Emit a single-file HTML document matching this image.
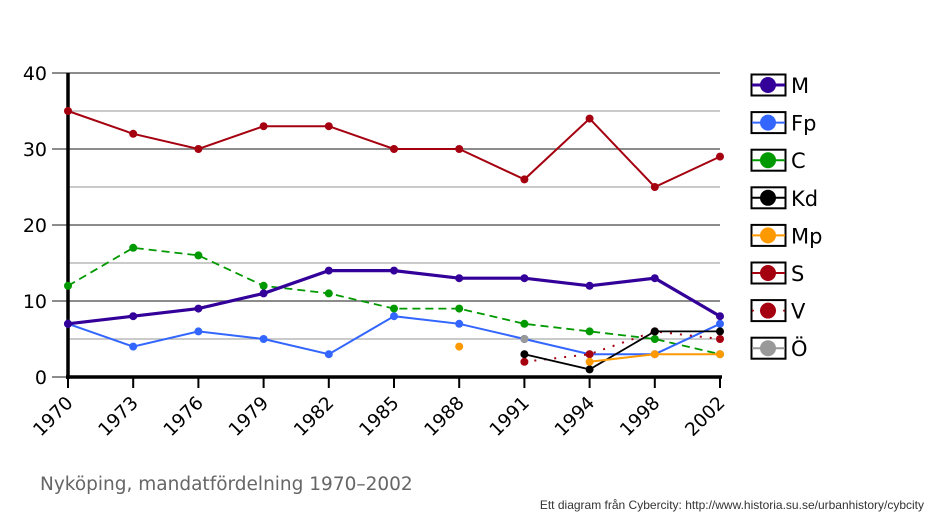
<!DOCTYPE html>
<html><head><meta charset="utf-8"><style>
html,body{margin:0;padding:0;background:#fff;width:934px;height:521px;overflow:hidden}
svg text{font-family:"DejaVu Sans","Liberation Sans",sans-serif}
</style></head><body>
<svg id="s" width="934" height="521" xmlns="http://www.w3.org/2000/svg">
<text x="40" y="490" font-size="18.5" fill="#666">Nyköping, mandatfördelning 1970–2002</text>
<text x="924" y="509" font-size="12" fill="#333" text-anchor="end" style="font-family:'Liberation Sans',sans-serif">Ett diagram från Cybercity: http://www.historia.su.se/urbanhistory/cybcity</text>
</svg>
<script>
var s=document.getElementById('s'),NS='http://www.w3.org/2000/svg';
function el(t,a,txt){var e=document.createElementNS(NS,t);for(var k in a)e.setAttribute(k,a[k]);if(txt!=null)e.textContent=txt;s.appendChild(e);return e;}
var years=[1970,1973,1976,1979,1982,1985,1988,1991,1994,1998,2002];
function X(i){return 68+i*65.2;}function Y(v){return 377-7.6*v;}
for(var v=5;v<=40;v+=5){var maj=v%10==0;el('line',{x1:maj?52:68,x2:720,y1:Y(v),y2:Y(v),stroke:maj?'#666':'#aaa','stroke-width':maj?1.5:1.2});
if(maj)el('text',{x:47,y:Y(v)+7,'font-size':19,'text-anchor':'end'},v);}
el('line',{x1:52,x2:68,y1:377,y2:377,stroke:'#666','stroke-width':1.5});
el('text',{x:47,y:384,'font-size':19,'text-anchor':'end'},0);
el('line',{x1:68,x2:68,y1:73,y2:379,stroke:'#000','stroke-width':3.5});
el('line',{x1:66,x2:722,y1:377,y2:377,stroke:'#000','stroke-width':3.5});
years.forEach(function(y,i){var x=X(i);el('line',{x1:x,x2:x,y1:377,y2:388,stroke:'#000','stroke-width':2});
el('text',{x:x+6,y:404,'font-size':18.5,'text-anchor':'end',transform:'rotate(-45 '+(x+6)+' 404)'},y);});
var ser=[
['S','#a50010',2,'',[35,32,30,33,33,30,30,26,34,25,29]],
['C','#009900',1.8,'8,5',[12,17,16,12,11,9,9,7,6,5,3]],
['Fp','#3366ff',2,'',[7,4,6,5,3,8,7,5,3,3,7]],
['M','#330099',3.2,'',[7,8,9,11,14,14,13,13,12,13,8]],
['V','#a50010',2,'2,8',[null,null,null,null,null,null,null,2,3,6,5]],
['Kd','#000',1.8,'',[null,null,null,null,null,null,null,3,1,6,6]],
['Mp','#ff9900',2,'',[null,null,null,null,null,null,4,null,2,3,3]],
['Ö','#999',2,'',[null,null,null,null,null,null,null,5,null,null,null]]];
ser.forEach(function(a){var d='',pts=a[4];var seg=false;
pts.forEach(function(v,i){if(v==null){seg=false;return;}d+=(seg?'L':'M')+X(i)+' '+Y(v)+' ';seg=true;});
var p=el('path',{d:d,fill:'none',stroke:a[1],'stroke-width':a[2]});if(a[3])p.setAttribute('stroke-dasharray',a[3]);
pts.forEach(function(v,i){if(v!=null)el('circle',{cx:X(i),cy:Y(v),r:4,fill:a[1]});});});
var leg=[['M','#330099',3],['Fp','#3366ff',2],['C','#009900',2],['Kd','#000',2],['Mp','#ff9900',2],['S','#a50010',2],['V','#a50010',0],['Ö','#999',2]];
leg.forEach(function(a,i){var cy=85+i*37.6;
el('rect',{x:751.5,y:cy-10.5,width:34,height:21,fill:'#fff',stroke:'#000','stroke-width':2});
if(a[2])el('line',{x1:752,x2:785,y1:cy,y2:cy,stroke:a[1],'stroke-width':a[2]});
else{el('circle',{cx:753,cy:cy,r:1,fill:a[1]});el('circle',{cx:784,cy:cy,r:1,fill:a[1]});}
el('circle',{cx:768,cy:cy,r:8,fill:a[1]});
el('text',{x:791,y:cy+8,'font-size':21},a[0]);});
</script>
</body></html>
